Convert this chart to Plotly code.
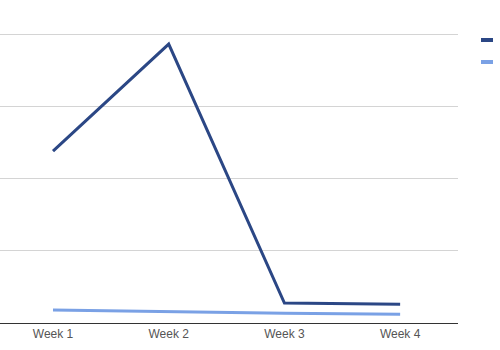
import plotly.graph_objects as go

weeks = ["Week 1", "Week 2", "Week 3", "Week 4"]
series_a = [59.5, 96.5, 6.9, 6.5]
series_b = [4.5, 3.9, 3.4, 3.0]
names = ["Series A", "Series B"]
colors = ["#2b4785", "#7aa1e5"]

W, H = 500, 350
plot_left, plot_right = 0, 458
plot_top, plot_bottom = 30, 323
ymax = 100 * (plot_bottom - plot_top) / (plot_bottom - 34)

fig = go.Figure()
for vals, name, col in zip([series_a, series_b], names, colors):
    fig.add_trace(go.Scatter(x=weeks, y=vals, mode="lines", name=name,
                             line=dict(color=col, width=3)))

# legend swatches (text lies beyond the visible crop)
for i, col in enumerate(colors):
    y = 1 - (40 + 22 * i - plot_top) / (plot_bottom - plot_top)
    fig.add_shape(type="line", xref="paper", yref="paper",
                  x0=(481 - plot_left) / (plot_right - plot_left),
                  x1=(493 - plot_left) / (plot_right - plot_left),
                  y0=y, y1=y, line=dict(color=col, width=4))

fig.update_layout(
    width=W, height=H,
    margin=dict(l=plot_left, r=W - plot_right, t=plot_top, b=H - plot_bottom),
    paper_bgcolor="white", plot_bgcolor="white",
    showlegend=False,
    font=dict(family="Arial, Liberation Sans, sans-serif", size=12, color="#444444"),
    xaxis=dict(range=[-0.458, 3.5], showgrid=False, showline=True,
               linecolor="#333333", linewidth=1, ticks="", zeroline=False,
               tickfont=dict(size=12, color="#555555")),
    yaxis=dict(range=[0, ymax], dtick=25, showgrid=True, gridcolor="#d4d4d4",
               gridwidth=1, showticklabels=False, zeroline=False, showline=False),
)

fig.write_html("out.html")
